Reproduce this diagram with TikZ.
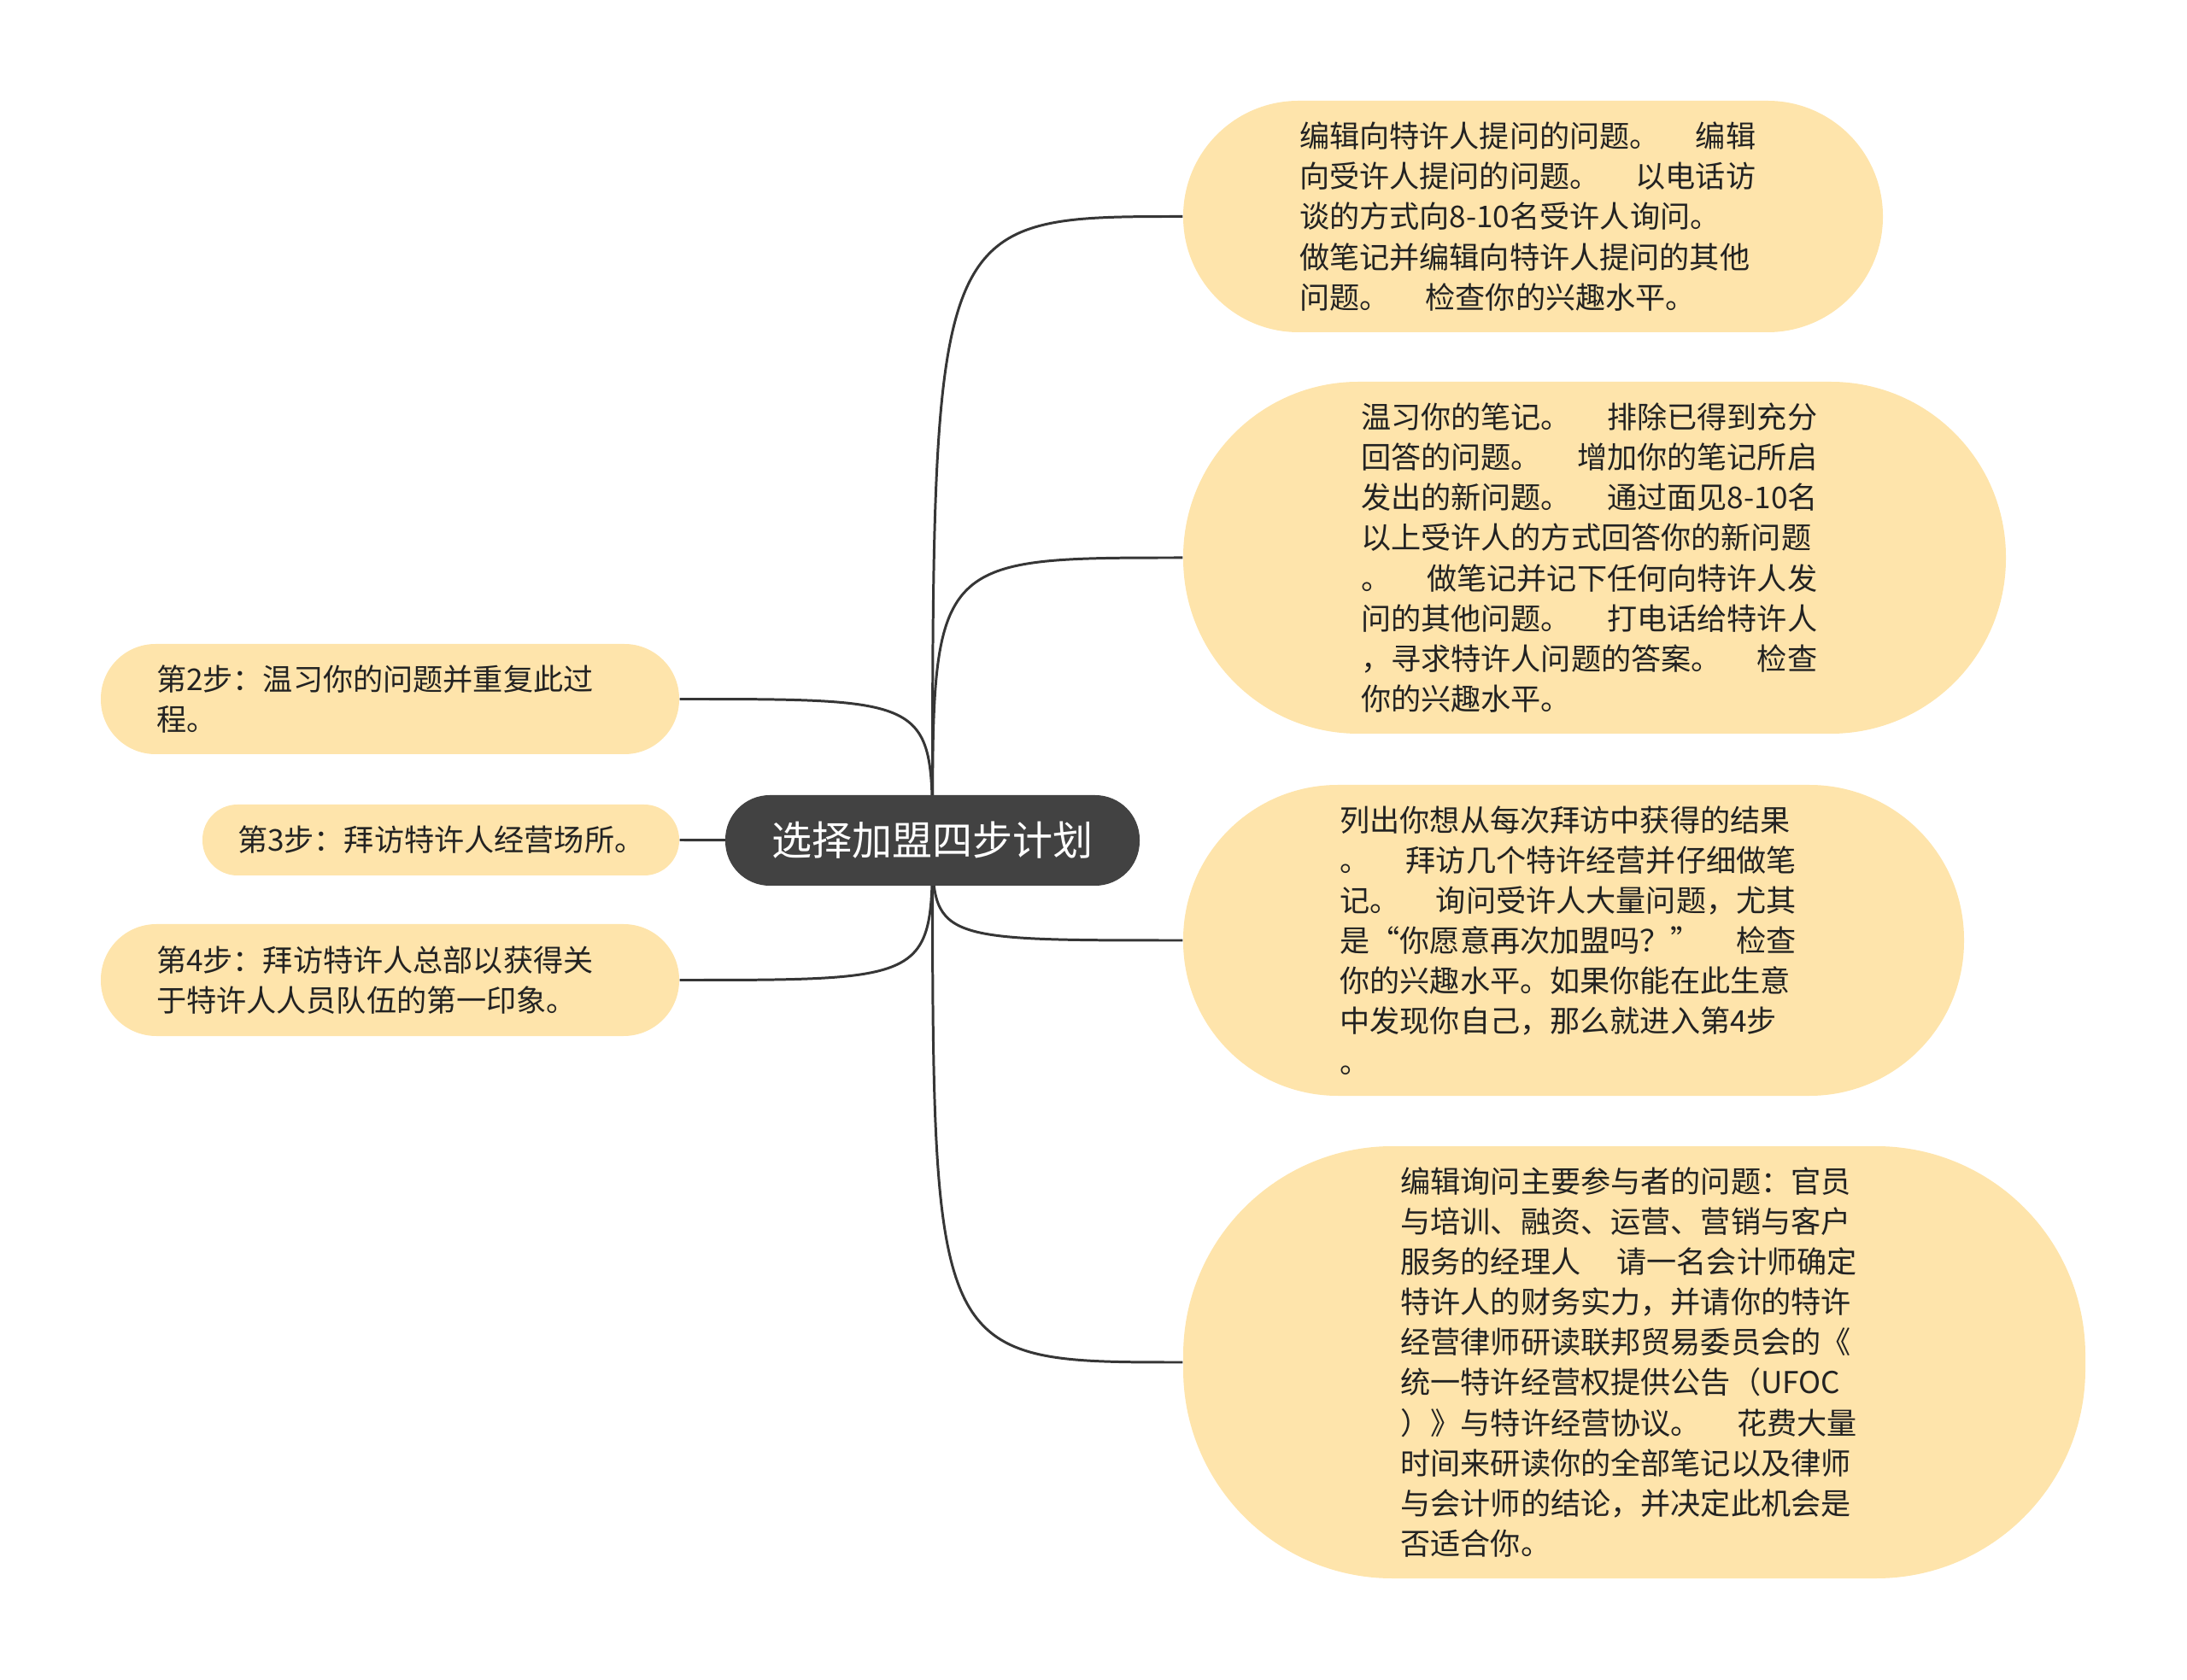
\documentclass[tikz,border=0pt]{standalone}
\usepackage{fontspec}
\usepackage{xcolor}
\usetikzlibrary{backgrounds}
\newfontfamily\cjk{Noto Sans CJK SC}
\definecolor{topicfill}{HTML}{FEE4AB}
\definecolor{rootfill}{HTML}{424242}
\definecolor{branchline}{HTML}{363636}
\definecolor{textdark}{HTML}{222222}
\newcommand{\tgap}{\hspace{1.2em}}

\begin{document}
\begin{tikzpicture}
        \tikzstyle{root}=[fill=rootfill,text=white,font={\cjk\fontsize{13.4pt}{16pt}\selectfont},inner sep=0pt]
        \tikzstyle{topic}=[fill=topicfill,text=textdark,font={\cjk\fontsize{10pt}{13.4pt}\selectfont},align=left,text width=5.47cm,inner sep=0pt]
        \tikzstyle{branch}=[draw=branchline,line width=0.85pt]

        \useasboundingbox (0,0) rectangle (25.6,-19.67);

        \draw node at (10.915, -9.84) [root, minimum width=4.85cm, minimum height=1.06cm, rounded corners=0.52cm] (plan) {选择加盟四步计划};

        \draw node at (17.945, -2.535) [topic, minimum width=8.19cm, minimum height=2.71cm, rounded corners=1.35cm] (ask) {编辑向特许人提问的问题。\tgap 编辑\\向受许人提问的问题。\tgap 以电话访\\谈的方式向8-10名受许人询问。\\做笔记并编辑向特许人提问的其他\\问题。\tgap 检查你的兴趣水平。};
        \draw node at (18.665, -6.53) [topic, minimum width=9.63cm, minimum height=4.12cm, rounded corners=2.05cm] (review) {温习你的笔记。\tgap 排除已得到充分\\回答的问题。\tgap 增加你的笔记所启\\发出的新问题。\tgap 通过面见8-10名\\以上受许人的方式回答你的新问题\\。\tgap 做笔记并记下任何向特许人发\\问的其他问题。\tgap 打电话给特许人\\，寻求特许人问题的答案。\tgap 检查\\你的兴趣水平。};
        \draw node at (18.42, -11.01) [topic, minimum width=9.14cm, minimum height=3.64cm, rounded corners=1.81cm] (visit) {列出你想从每次拜访中获得的结果\\。\tgap 拜访几个特许经营并仔细做笔\\记。\tgap 询问受许人大量问题，尤其\\是“你愿意再次加盟吗？”\tgap 检查\\你的兴趣水平。如果你能在此生意\\中发现你自己，那么就进入第4步\\。};
        \draw node at (19.13, -15.95) [topic, minimum width=10.56cm, minimum height=5.06cm, rounded corners=2.45cm] (audit) {编辑询问主要参与者的问题：官员\\与培训、融资、运营、营销与客户\\服务的经理人\tgap 请一名会计师确定\\特许人的财务实力，并请你的特许\\经营律师研读联邦贸易委员会的《\\统一特许经营权提供公告（UFOC\\）》与特许经营协议。\tgap 花费大量\\时间来研读你的全部笔记以及律师\\与会计师的结论，并决定此机会是\\否适合你。};

        \draw node at (4.565, -8.185) [topic, minimum width=6.77cm, minimum height=1.29cm, rounded corners=0.64cm] (step2) {第2步：温习你的问题并重复此过\\程。};
        \draw node at (5.16, -9.835) [topic, text width=4.76cm, minimum width=5.58cm, minimum height=0.83cm, rounded corners=0.41cm] (step3) {第3步：拜访特许人经营场所。};
        \draw node at (4.565, -11.475) [topic, minimum width=6.77cm, minimum height=1.31cm, rounded corners=0.65cm] (step4) {第4步：拜访特许人总部以获得关\\于特许人人员队伍的第一印象。};

        \begin{scope}[on background layer]
        \draw [branch] (plan.center) .. controls (plan.center |- ask.west) .. (ask.west);
        \draw [branch] (plan.center) .. controls (plan.center |- review.west) .. (review.west);
        \draw [branch] (plan.center) .. controls (plan.center |- visit.west) .. (visit.west);
        \draw [branch] (plan.center) .. controls (plan.center |- audit.west) .. (audit.west);
        \draw [branch] (plan.center) .. controls (plan.center |- step2.east) .. (step2.east);
        \draw [branch] (plan.center) -- (step3.east);
        \draw [branch] (plan.center) .. controls (plan.center |- step4.east) .. (step4.east);
        \end{scope}
    \end{tikzpicture}
\end{document}
